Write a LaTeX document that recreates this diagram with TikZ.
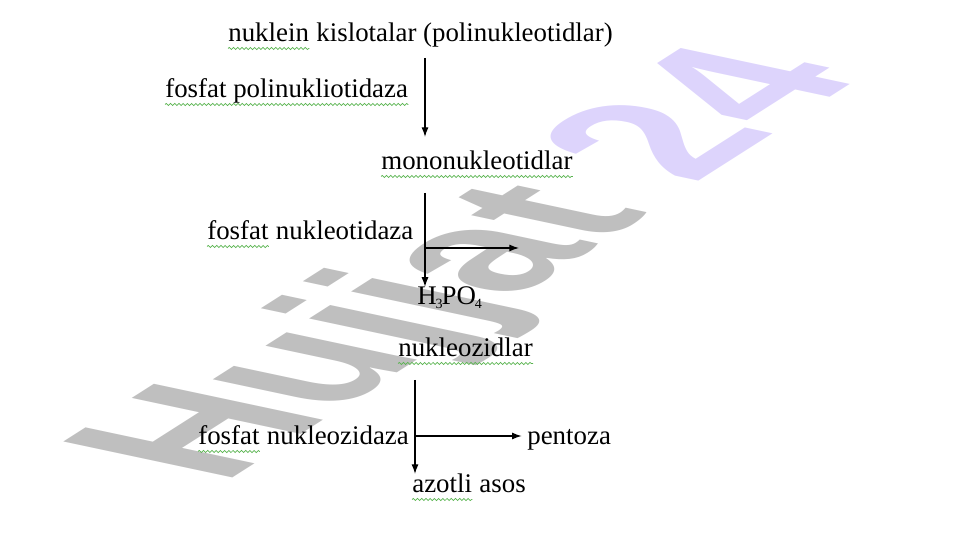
\documentclass[tikz,border=0pt]{standalone}
\usepackage{fontspec}
\setmainfont{Liberation Serif}
\newfontfamily\wmfont{Liberation Sans}
\usetikzlibrary{arrows.meta,decorations.pathmorphing}
\definecolor{wmgray}{RGB}{191,191,191}
\definecolor{wmlilac}{RGB}{221,212,252}
\definecolor{spellgreen}{RGB}{90,180,80}
\newcommand\sub[1]{\kern-0.6pt\raisebox{-2.2pt}{\fontsize{8}{8}\selectfont#1}\kern-0.6pt}

\begin{document}
\begin{tikzpicture}[x=0.02cm, y=-0.02cm,
    word/.style={anchor=base west, inner sep=0, font=\fontsize{15.3}{18}\selectfont},
    arr/.style={-{Latex[length=5.5pt,width=4pt]}, line width=0.7pt},
    spell/.style={spellgreen, line width=0.4pt, decorate, decoration={snake, amplitude=0.6pt, segment length=2.4pt}}]
  \useasboundingbox (0,0) rectangle (961,540);

  \begin{scope}[shift={(222,485)}, cm={1.754,1.118,-2.797,0.595,(0,0)}]
    \node[transform shape, anchor=base west, inner sep=0] (mark) at (0,0)
      {\wmfont\bfseries\fontsize{50}{50}\selectfont\textcolor{wmgray}{Hujjat}\ \textcolor{wmlilac}{24}};
  \end{scope}

  \node[word] (nuk) at (228,42) {nuklein};
  \node[word] (poly) at (nuk.base east) {\ kislotalar (polinukleotidlar)};
  \node[word] (enz1) at (165,98) {fosfat polinukliotidaza};
  \node[word] (mono) at (381,170) {mononukleotidlar};
  \node[word] (fos2) at (207,240) {fosfat};
  \node[word] (enz2) at (fos2.base east) {\ nukleotidaza};
  \node[word] (acid) at (417,305) {H\sub{3}PO\sub{4}};
  \node[word] (nucl) at (398,357) {nukleozidlar};
  \node[word] (fos3) at (198,445) {fosfat};
  \node[word] (enz3) at (fos3.base east) {\ nukleozidaza};
  \node[word] (pent) at (527,445) {pentoza};
  \node[word] (azot) at (412,493) {azotli};
  \node[word] (asos) at (azot.base east) {\ asos};

  \coordinate (a1) at (425,58);
  \coordinate (b1) at (425,137);
  \coordinate (a2) at (425,193);
  \coordinate (j2) at (425,248);
  \coordinate (p2) at (519,248);
  \coordinate (a3) at (415,380);
  \coordinate (j3) at (415,436);

  \draw[arr] (a1) -- (b1);
  \draw[arr] (a2) -- (a2 |- acid.north);
  \draw[arr] (j2) -- (p2);
  \draw[arr] (a3) -- (a3 |- azot.north);
  \draw[arr] (j3) -- ([xshift=-3pt]j3 -| pent.west);

  \foreach \w in {nuk, enz1, mono, fos2, nucl, fos3, azot}
    \draw[spell] ([yshift=-3.7pt]\w.base west) -- ([yshift=-3.7pt]\w.base east);
\end{tikzpicture}
\end{document}
